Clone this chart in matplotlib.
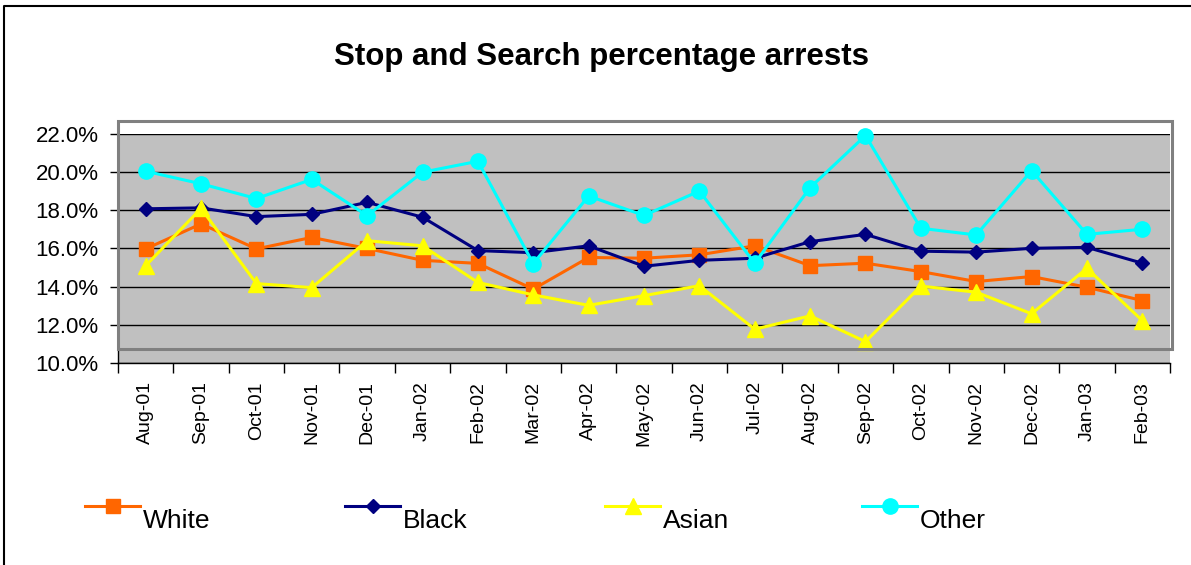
import numpy as np
import matplotlib.pyplot as plt
from matplotlib.lines import Line2D
from matplotlib.patches import Rectangle
from matplotlib.ticker import FixedLocator, FuncFormatter

plt.rcParams['font.family'] = ['Liberation Sans', 'DejaVu Sans']

months = ['Aug-01', 'Sep-01', 'Oct-01', 'Nov-01', 'Dec-01', 'Jan-02', 'Feb-02',
          'Mar-02', 'Apr-02', 'May-02', 'Jun-02', 'Jul-02', 'Aug-02', 'Sep-02',
          'Oct-02', 'Nov-02', 'Dec-02', 'Jan-03', 'Feb-03']

# porcentaje de arrestos por grupo
white = [15.98, 17.29, 15.98, 16.58, 16.00, 15.38, 15.22, 13.87, 15.53, 15.49,
         15.67, 16.14, 15.10, 15.23, 14.79, 14.27, 14.53, 13.97, 13.27]
black = [18.08, 18.13, 17.67, 17.79, 18.42, 17.64, 15.89, 15.78, 16.14, 15.07,
         15.38, 15.49, 16.36, 16.74, 15.86, 15.81, 16.01, 16.06, 15.23]
asian = [15.10, 18.10, 14.16, 13.95, 16.41, 16.14, 14.22, 13.57, 13.02, 13.53,
         14.05, 11.77, 12.47, 11.12, 14.03, 13.71, 12.58, 14.96, 12.22]
other = [20.05, 19.39, 18.62, 19.62, 17.72, 20.00, 20.57, 15.21, 18.75, 17.73,
         19.01, 15.23, 19.19, 21.92, 17.06, 16.71, 20.08, 16.74, 17.01]

series = [
    ('White', white, '#FF6600', 's', 10.5),
    ('Black', black, '#000080', 'D', 7),
    ('Asian', asian, '#FFFF00', '^', 11),
    ('Other', other, '#00FFFF', 'o', 11),
]

W, H = 1191, 565
fig = plt.figure(figsize=(W / 100, H / 100), dpi=100)

# borde exterior: solo izquierda y arriba quedan dentro de la imagen
fig.add_artist(Line2D([4 / W, 4 / W, 1.0], [0.0, 1 - 6 / H, 1 - 6 / H],
                      transform=fig.transFigure, color='black', linewidth=1.5))

ax = fig.add_axes([118 / W, 1 - 363 / H, (1170 - 118) / W, (363 - 134) / H])
ax.set_facecolor('#C0C0C0')

x = np.arange(len(months))
for name, vals, color, mk, ms in series:
    ax.plot(x, vals, color=color, linewidth=2.2, marker=mk, markersize=ms,
            markerfacecolor=color, markeredgecolor=color, clip_on=False, zorder=3)

ax.set_xlim(-0.5, len(months) - 0.5)
ax.set_ylim(10, 22)
ax.set_yticks(np.arange(10, 22.1, 2))
ax.yaxis.set_major_formatter(FuncFormatter(lambda v, p: f'{v:.1f}%'))
ax.tick_params(axis='y', direction='out', length=6, width=1, labelsize=16, pad=8)
ax.grid(axis='y', color='black', linewidth=1)
ax.set_axisbelow(True)

ax.set_xticks(x)
ax.set_xticklabels(months, rotation=90)
ax.xaxis.set_minor_locator(FixedLocator(np.arange(-0.5, len(months), 1)))
ax.tick_params(axis='x', which='major', length=0, labelsize=14, pad=13)
ax.tick_params(axis='x', which='minor', direction='out', length=7, width=1)

for s in ['top', 'right']:
    ax.spines[s].set_visible(False)
ax.spines['left'].set_linewidth(1)
ax.spines['bottom'].set_linewidth(1)

# marco gris del área de trazado
fig.add_artist(Rectangle((118 / W, 1 - 349 / H), (1172 - 118) / W, (349 - 121) / H,
                         transform=fig.transFigure, fill=False,
                         edgecolor='#808080', linewidth=2.2, zorder=5))

fig.text(602 / W, 1 - 57 / H, 'Stop and Search percentage arrests',
         ha='center', va='center', fontsize=22.5, fontweight='bold')

# leyenda horizontal
leg_x = [85, 345, 605, 862]
for (name, vals, color, mk, ms), lx in zip(series, leg_x):
    xs = np.array([lx, lx + 27.5, lx + 55]) / W
    ys = np.full(3, 1 - 506 / H)
    fig.add_artist(Line2D(xs, ys, transform=fig.transFigure, color=color,
                          linewidth=2.2, marker=mk, markersize=ms, markevery=[1],
                          markerfacecolor=color, markeredgecolor=color))
    fig.text((lx + 58) / W, 1 - 521 / H, name, ha='left', va='center', fontsize=19)

fig.savefig('out.png', dpi=100)
